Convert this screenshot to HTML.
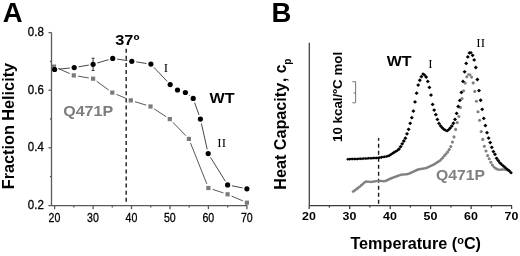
<!DOCTYPE html>
<html><head><meta charset="utf-8"><title>Figure</title>
<style>html,body{margin:0;padding:0;background:#fff}body{width:520px;height:256px;overflow:hidden;position:relative;font-family:"Liberation Sans",sans-serif}</style></head>
<body>
<svg width="520" height="256" viewBox="0 0 520 256" style="position:absolute;left:0;top:0;filter:blur(0.4px)">
<rect width="520" height="256" fill="#fff"/>
<g stroke="#5a5a5a" stroke-width="1.3" fill="none">
<path d="M51.5 32.5V205.7"/>
<path d="M48.4 205.7H247.5"/>
<path d="M48.5 32.6H51.5"/>
<path d="M49.9 61.4H51.5"/>
<path d="M48.5 90.2H51.5"/>
<path d="M49.9 119.0H51.5"/>
<path d="M48.5 147.8H51.5"/>
<path d="M49.9 176.6H51.5"/>
<path d="M54.6 205.7V209.2"/>
<path d="M73.8 205.7V207.5"/>
<path d="M93.1 205.7V209.2"/>
<path d="M112.3 205.7V207.5"/>
<path d="M131.5 205.7V209.2"/>
<path d="M150.8 205.7V207.5"/>
<path d="M170.0 205.7V209.2"/>
<path d="M189.2 205.7V207.5"/>
<path d="M208.4 205.7V209.2"/>
<path d="M227.7 205.7V207.5"/>
<path d="M246.9 205.7V209.2"/>
</g>
<path d="M126.2 48.7V205" stroke="#1a1a1a" stroke-width="1.4" stroke-dasharray="4 3.1" fill="none"/>
<path d="M58.0 68.4L69.8 73.6M78.1 76.1L88.8 78.0M96.7 81.3L108.7 90.0M116.4 94.3L126.7 98.7M135.0 101.7L146.3 105.2M154.2 108.9L166.1 116.7M172.9 122.3L185.8 135.7M190.5 143.0L206.8 183.9M212.6 189.4L223.4 192.9M231.6 196.1L242.9 200.9" stroke="#444" stroke-width="0.9" fill="none"/>
<path d="M59.0 69.1L69.8 68.0M78.5 66.8L88.8 65.1M97.3 63.0L108.5 59.7M117.1 59.1L127.4 60.6M136.2 61.9L146.5 63.5M153.9 67.3L167.2 81.4M188.9 95.2L189.7 95.7M194.6 102.6L199.0 114.9M201.4 123.4L207.2 149.3M210.5 157.3L225.3 181.2M231.9 185.8L242.6 187.9" stroke="#333" stroke-width="0.9" fill="none"/>
<path d="M93.1 58.2V70.5M91.6 58.2H94.6M91.6 70.5H94.6" stroke="#222" stroke-width="0.9" fill="none"/>
<rect x="51.9" y="64.5" width="4.2" height="4.2" fill="#7a7a7a"/>
<rect x="71.7" y="73.3" width="4.2" height="4.2" fill="#7a7a7a"/>
<rect x="91.0" y="76.6" width="4.2" height="4.2" fill="#7a7a7a"/>
<rect x="110.2" y="90.5" width="4.2" height="4.2" fill="#7a7a7a"/>
<rect x="128.7" y="98.3" width="4.2" height="4.2" fill="#7a7a7a"/>
<rect x="148.4" y="104.4" width="4.2" height="4.2" fill="#7a7a7a"/>
<rect x="167.7" y="117.0" width="4.2" height="4.2" fill="#7a7a7a"/>
<rect x="186.8" y="136.8" width="4.2" height="4.2" fill="#7a7a7a"/>
<rect x="206.3" y="185.9" width="4.2" height="4.2" fill="#7a7a7a"/>
<rect x="225.5" y="192.2" width="4.2" height="4.2" fill="#7a7a7a"/>
<rect x="244.8" y="200.6" width="4.2" height="4.2" fill="#7a7a7a"/>
<circle cx="54.6" cy="69.5" r="2.6" fill="#000"/>
<circle cx="74.2" cy="67.6" r="2.6" fill="#000"/>
<circle cx="93.1" cy="64.3" r="2.6" fill="#000"/>
<circle cx="112.7" cy="58.4" r="2.6" fill="#000"/>
<circle cx="131.8" cy="61.3" r="2.6" fill="#000"/>
<circle cx="150.9" cy="64.1" r="2.6" fill="#000"/>
<circle cx="170.2" cy="84.6" r="2.6" fill="#000"/>
<circle cx="177.5" cy="90.0" r="2.6" fill="#000"/>
<circle cx="185.4" cy="92.5" r="2.6" fill="#000"/>
<circle cx="193.2" cy="98.4" r="2.6" fill="#000"/>
<circle cx="200.4" cy="119.1" r="2.6" fill="#000"/>
<circle cx="208.2" cy="153.6" r="2.6" fill="#000"/>
<circle cx="227.6" cy="184.9" r="2.6" fill="#000"/>
<circle cx="246.9" cy="188.8" r="2.6" fill="#000"/>
<g stroke="#3c3c3c" stroke-width="1.25" fill="none">
<path d="M309.3 42.8V205.6"/>
<path d="M309.3 205.6H512"/>
<path d="M309.2 205.6V209.0"/>
<path d="M329.4 205.6V207.6"/>
<path d="M349.7 205.6V209.0"/>
<path d="M369.9 205.6V207.6"/>
<path d="M390.2 205.6V209.0"/>
<path d="M410.4 205.6V207.6"/>
<path d="M430.6 205.6V209.0"/>
<path d="M450.9 205.6V207.6"/>
<path d="M471.1 205.6V209.0"/>
<path d="M491.4 205.6V207.6"/>
<path d="M511.6 205.6V209.0"/>
</g>
<path d="M378.6 138V205.5" stroke="#1a1a1a" stroke-width="1.4" stroke-dasharray="3.9 3.1" stroke-dashoffset="1.25" fill="none"/>
<path d="M355.6 81.7V102.8M352.3 81.7H355.6M353.6 93H355.6M352.3 102.8H355.6" stroke="#666" stroke-width="0.9" fill="none"/>
<circle cx="353.2" cy="191.6" r="1.40" fill="#808080"/>
<circle cx="354.8" cy="190.4" r="1.40" fill="#808080"/>
<circle cx="356.4" cy="189.2" r="1.40" fill="#808080"/>
<circle cx="358.0" cy="188.0" r="1.40" fill="#808080"/>
<circle cx="359.6" cy="186.8" r="1.41" fill="#808080"/>
<circle cx="361.2" cy="185.4" r="1.42" fill="#808080"/>
<circle cx="362.8" cy="184.0" r="1.42" fill="#808080"/>
<circle cx="364.4" cy="182.6" r="1.40" fill="#808080"/>
<circle cx="366.0" cy="181.6" r="1.31" fill="#808080"/>
<circle cx="367.6" cy="181.7" r="1.26" fill="#808080"/>
<circle cx="369.2" cy="181.8" r="1.26" fill="#808080"/>
<circle cx="370.8" cy="181.9" r="1.26" fill="#808080"/>
<circle cx="372.4" cy="181.7" r="1.27" fill="#808080"/>
<circle cx="374.0" cy="181.5" r="1.28" fill="#808080"/>
<circle cx="375.6" cy="181.3" r="1.28" fill="#808080"/>
<circle cx="377.2" cy="181.1" r="1.27" fill="#808080"/>
<circle cx="378.8" cy="180.9" r="1.25" fill="#808080"/>
<circle cx="380.4" cy="181.0" r="1.26" fill="#808080"/>
<circle cx="382.0" cy="181.1" r="1.26" fill="#808080"/>
<circle cx="383.6" cy="181.2" r="1.25" fill="#808080"/>
<circle cx="385.2" cy="181.1" r="1.30" fill="#808080"/>
<circle cx="386.8" cy="180.4" r="1.34" fill="#808080"/>
<circle cx="388.4" cy="179.6" r="1.34" fill="#808080"/>
<circle cx="390.0" cy="178.9" r="1.34" fill="#808080"/>
<circle cx="391.6" cy="178.2" r="1.33" fill="#808080"/>
<circle cx="393.2" cy="177.6" r="1.32" fill="#808080"/>
<circle cx="394.8" cy="177.0" r="1.32" fill="#808080"/>
<circle cx="396.4" cy="176.4" r="1.32" fill="#808080"/>
<circle cx="398.0" cy="175.8" r="1.33" fill="#808080"/>
<circle cx="399.6" cy="175.2" r="1.32" fill="#808080"/>
<circle cx="401.2" cy="174.7" r="1.29" fill="#808080"/>
<circle cx="402.8" cy="174.6" r="1.27" fill="#808080"/>
<circle cx="404.4" cy="174.4" r="1.27" fill="#808080"/>
<circle cx="406.0" cy="174.2" r="1.27" fill="#808080"/>
<circle cx="407.6" cy="174.1" r="1.29" fill="#808080"/>
<circle cx="409.2" cy="173.6" r="1.32" fill="#808080"/>
<circle cx="410.8" cy="172.9" r="1.34" fill="#808080"/>
<circle cx="412.4" cy="172.1" r="1.34" fill="#808080"/>
<circle cx="414.0" cy="171.4" r="1.34" fill="#808080"/>
<circle cx="415.6" cy="170.7" r="1.34" fill="#808080"/>
<circle cx="417.2" cy="169.9" r="1.33" fill="#808080"/>
<circle cx="418.8" cy="169.4" r="1.30" fill="#808080"/>
<circle cx="420.4" cy="169.1" r="1.28" fill="#808080"/>
<circle cx="422.0" cy="168.8" r="1.28" fill="#808080"/>
<circle cx="423.6" cy="168.6" r="1.28" fill="#808080"/>
<circle cx="425.2" cy="168.3" r="1.30" fill="#808080"/>
<circle cx="426.8" cy="167.8" r="1.33" fill="#808080"/>
<circle cx="428.4" cy="167.1" r="1.34" fill="#808080"/>
<circle cx="430.0" cy="166.3" r="1.34" fill="#808080"/>
<circle cx="431.6" cy="165.6" r="1.34" fill="#808080"/>
<circle cx="433.2" cy="164.9" r="1.35" fill="#808080"/>
<circle cx="434.8" cy="163.9" r="1.37" fill="#808080"/>
<circle cx="436.4" cy="162.9" r="1.37" fill="#808080"/>
<circle cx="438.0" cy="161.9" r="1.37" fill="#808080"/>
<circle cx="439.6" cy="160.9" r="1.41" fill="#808080"/>
<circle cx="441.2" cy="159.4" r="1.46" fill="#808080"/>
<circle cx="442.8" cy="157.7" r="1.47" fill="#808080"/>
<circle cx="444.4" cy="155.8" r="1.48" fill="#808080"/>
<circle cx="446.0" cy="154.0" r="1.49" fill="#808080"/>
<circle cx="447.6" cy="151.9" r="1.52" fill="#808080"/>
<circle cx="449.2" cy="149.6" r="1.55" fill="#808080"/>
<circle cx="450.8" cy="146.5" r="1.55" fill="#808080"/>
<circle cx="452.4" cy="142.1" r="1.55" fill="#808080"/>
<circle cx="454.0" cy="136.9" r="1.55" fill="#808080"/>
<circle cx="455.6" cy="129.4" r="1.55" fill="#808080"/>
<circle cx="457.2" cy="122.6" r="1.55" fill="#808080"/>
<circle cx="458.8" cy="116.5" r="1.55" fill="#808080"/>
<circle cx="460.4" cy="107.4" r="1.55" fill="#808080"/>
<circle cx="462.0" cy="98.5" r="1.55" fill="#808080"/>
<circle cx="463.6" cy="90.7" r="1.55" fill="#808080"/>
<circle cx="465.2" cy="83.1" r="1.55" fill="#808080"/>
<circle cx="466.8" cy="76.7" r="1.55" fill="#808080"/>
<circle cx="468.4" cy="74.5" r="1.36" fill="#808080"/>
<circle cx="470.0" cy="74.8" r="1.41" fill="#808080"/>
<circle cx="471.6" cy="77.1" r="1.55" fill="#808080"/>
<circle cx="473.2" cy="82.9" r="1.55" fill="#808080"/>
<circle cx="474.8" cy="91.4" r="1.55" fill="#808080"/>
<circle cx="476.4" cy="101.3" r="1.55" fill="#808080"/>
<circle cx="478.0" cy="111.7" r="1.55" fill="#808080"/>
<circle cx="479.6" cy="120.2" r="1.55" fill="#808080"/>
<circle cx="481.2" cy="131.6" r="1.55" fill="#808080"/>
<circle cx="482.8" cy="139.4" r="1.55" fill="#808080"/>
<circle cx="484.4" cy="146.2" r="1.55" fill="#808080"/>
<circle cx="486.0" cy="151.0" r="1.55" fill="#808080"/>
<circle cx="487.6" cy="155.6" r="1.55" fill="#808080"/>
<circle cx="489.2" cy="158.8" r="1.55" fill="#808080"/>
<circle cx="490.8" cy="162.3" r="1.55" fill="#808080"/>
<circle cx="492.4" cy="165.0" r="1.55" fill="#808080"/>
<circle cx="494.0" cy="167.1" r="1.46" fill="#808080"/>
<circle cx="495.6" cy="168.4" r="1.38" fill="#808080"/>
<circle cx="497.2" cy="169.2" r="1.34" fill="#808080"/>
<circle cx="498.8" cy="169.8" r="1.28" fill="#808080"/>
<circle cx="500.4" cy="169.7" r="1.26" fill="#808080"/>
<circle cx="502.0" cy="169.6" r="1.26" fill="#808080"/>
<circle cx="503.6" cy="169.5" r="1.26" fill="#808080"/>
<circle cx="505.2" cy="169.7" r="1.28" fill="#808080"/>
<circle cx="506.8" cy="170.0" r="1.28" fill="#808080"/>
<circle cx="508.4" cy="170.2" r="1.28" fill="#808080"/>
<path d="M347.8 157.69L349.41 159.2L347.8 160.71L346.19 159.2Z" fill="#000"/>
<path d="M349.4 157.64L351.01 159.1L349.4 160.66L347.79 159.1Z" fill="#000"/>
<path d="M351.0 157.59L352.61 159.1L351.0 160.60L349.39 159.1Z" fill="#000"/>
<path d="M352.6 157.53L354.21 159.0L352.6 160.55L350.99 159.0Z" fill="#000"/>
<path d="M354.2 157.48L355.81 159.0L354.2 160.50L352.59 159.0Z" fill="#000"/>
<path d="M355.8 157.43L357.41 158.9L355.8 160.45L354.19 158.9Z" fill="#000"/>
<path d="M357.4 157.38L359.01 158.9L357.4 160.39L355.79 158.9Z" fill="#000"/>
<path d="M359.0 157.32L360.61 158.8L359.0 160.34L357.39 158.8Z" fill="#000"/>
<path d="M360.6 157.26L362.21 158.8L360.6 160.28L358.99 158.8Z" fill="#000"/>
<path d="M362.2 157.17L363.81 158.7L362.2 160.20L360.59 158.7Z" fill="#000"/>
<path d="M363.8 157.09L365.41 158.6L363.8 160.11L362.19 158.6Z" fill="#000"/>
<path d="M365.4 157.00L367.01 158.5L365.4 160.03L363.79 158.5Z" fill="#000"/>
<path d="M367.0 156.92L368.61 158.4L367.0 159.95L365.39 158.4Z" fill="#000"/>
<path d="M368.6 156.83L370.21 158.3L368.6 159.86L366.99 158.3Z" fill="#000"/>
<path d="M370.2 156.75L371.81 158.3L370.2 159.78L368.59 158.3Z" fill="#000"/>
<path d="M371.8 156.66L373.41 158.2L371.8 159.69L370.19 158.2Z" fill="#000"/>
<path d="M373.4 156.58L375.01 158.1L373.4 159.61L371.79 158.1Z" fill="#000"/>
<path d="M375.0 156.50L376.61 158.0L375.0 159.52L373.39 158.0Z" fill="#000"/>
<path d="M376.6 156.41L378.21 157.9L376.6 159.44L374.99 157.9Z" fill="#000"/>
<path d="M378.2 156.32L379.82 157.8L378.2 159.37L376.58 157.8Z" fill="#000"/>
<path d="M379.8 156.11L381.44 157.6L379.8 159.19L378.16 157.6Z" fill="#000"/>
<path d="M381.4 155.79L383.05 157.3L381.4 158.89L379.75 157.3Z" fill="#000"/>
<path d="M383.0 155.49L384.65 157.0L383.0 158.59L381.35 157.0Z" fill="#000"/>
<path d="M384.6 155.19L386.25 156.7L384.6 158.29L382.95 156.7Z" fill="#000"/>
<path d="M386.2 154.88L387.85 156.4L386.2 157.99L384.55 156.4Z" fill="#000"/>
<path d="M387.8 154.53L389.48 156.1L387.8 157.69L386.12 156.1Z" fill="#000"/>
<path d="M389.4 153.85L391.14 155.5L389.4 157.14L387.66 155.5Z" fill="#000"/>
<path d="M391.0 152.73L392.78 154.4L391.0 156.09L389.22 154.4Z" fill="#000"/>
<path d="M392.6 151.64L394.38 153.3L392.6 155.00L390.82 153.3Z" fill="#000"/>
<path d="M394.2 150.58L395.96 152.2L394.2 153.90L392.44 152.2Z" fill="#000"/>
<path d="M395.8 149.72L397.56 151.4L395.8 153.03L394.04 151.4Z" fill="#000"/>
<path d="M397.4 148.68L399.19 150.4L397.4 152.06L395.61 150.4Z" fill="#000"/>
<path d="M399.0 147.31L400.91 149.1L399.0 150.92L397.09 149.1Z" fill="#000"/>
<path d="M400.6 144.77L402.60 146.7L400.6 148.57L398.60 146.7Z" fill="#000"/>
<path d="M402.2 141.93L404.20 143.8L402.2 145.73L400.20 143.8Z" fill="#000"/>
<path d="M403.8 139.09L405.80 141.0L403.8 142.89L401.80 141.0Z" fill="#000"/>
<path d="M405.4 136.25L407.40 138.2L405.4 140.05L403.40 138.2Z" fill="#000"/>
<path d="M407.0 131.93L409.00 133.8L407.0 135.73L405.00 133.8Z" fill="#000"/>
<path d="M408.6 127.40L410.60 129.3L408.6 131.20L406.60 129.3Z" fill="#000"/>
<path d="M410.2 121.40L412.20 123.3L410.2 125.20L408.20 123.3Z" fill="#000"/>
<path d="M411.8 115.79L413.80 117.7L411.8 119.59L409.80 117.7Z" fill="#000"/>
<path d="M413.4 109.22L415.40 111.1L413.4 113.02L411.40 111.1Z" fill="#000"/>
<path d="M415.0 100.01L417.00 101.9L415.0 103.81L413.00 101.9Z" fill="#000"/>
<path d="M416.6 91.25L418.60 93.2L416.6 95.05L414.60 93.2Z" fill="#000"/>
<path d="M418.2 83.24L420.20 85.1L418.2 87.04L416.20 85.1Z" fill="#000"/>
<path d="M419.8 78.35L421.80 80.3L419.8 82.15L417.80 80.3Z" fill="#000"/>
<path d="M421.4 74.79L423.40 76.7L421.4 78.59L419.40 76.7Z" fill="#000"/>
<path d="M423.0 72.33L424.75 74.0L423.0 75.63L421.25 74.0Z" fill="#000"/>
<path d="M424.6 73.16L426.46 74.9L424.6 76.67L422.74 74.9Z" fill="#000"/>
<path d="M426.2 75.17L428.20 77.1L426.2 78.97L424.20 77.1Z" fill="#000"/>
<path d="M427.8 79.55L429.80 81.5L427.8 83.35L425.80 81.5Z" fill="#000"/>
<path d="M429.4 85.52L431.40 87.4L429.4 89.32L427.40 87.4Z" fill="#000"/>
<path d="M431.0 93.20L433.00 95.1L431.0 97.00L429.00 95.1Z" fill="#000"/>
<path d="M432.6 102.48L434.60 104.4L432.6 106.28L430.60 104.4Z" fill="#000"/>
<path d="M434.2 108.19L436.20 110.1L434.2 111.99L432.20 110.1Z" fill="#000"/>
<path d="M435.8 112.81L437.80 114.7L435.8 116.61L433.80 114.7Z" fill="#000"/>
<path d="M437.4 117.51L439.40 119.4L437.4 121.31L435.40 119.4Z" fill="#000"/>
<path d="M439.0 121.46L441.00 123.4L439.0 125.26L437.00 123.4Z" fill="#000"/>
<path d="M440.6 124.12L442.56 126.0L440.6 127.84L438.64 126.0Z" fill="#000"/>
<path d="M442.2 125.92L444.08 127.7L442.2 129.48L440.32 127.7Z" fill="#000"/>
<path d="M443.8 127.60L445.60 129.3L443.8 131.00L442.00 129.3Z" fill="#000"/>
<path d="M445.4 128.52L447.13 130.2L445.4 131.79L443.67 130.2Z" fill="#000"/>
<path d="M447.0 129.36L448.64 130.9L447.0 132.44L445.36 130.9Z" fill="#000"/>
<path d="M448.6 127.95L450.43 129.7L448.6 131.41L446.77 129.7Z" fill="#000"/>
<path d="M450.2 126.34L452.10 128.1L450.2 129.94L448.30 128.1Z" fill="#000"/>
<path d="M451.8 124.22L453.80 126.1L451.8 128.02L449.80 126.1Z" fill="#000"/>
<path d="M453.4 121.37L455.40 123.3L453.4 125.17L451.40 123.3Z" fill="#000"/>
<path d="M455.0 117.57L457.00 119.5L455.0 121.37L453.00 119.5Z" fill="#000"/>
<path d="M456.6 111.50L458.60 113.4L456.6 115.30L454.60 113.4Z" fill="#000"/>
<path d="M458.2 104.61L460.20 106.5L458.2 108.41L456.20 106.5Z" fill="#000"/>
<path d="M459.8 98.52L461.80 100.4L459.8 102.32L457.80 100.4Z" fill="#000"/>
<path d="M461.4 90.56L463.40 92.5L461.4 94.36L459.40 92.5Z" fill="#000"/>
<path d="M463.0 79.56L465.00 81.5L463.0 83.36L461.00 81.5Z" fill="#000"/>
<path d="M464.6 69.88L466.60 71.8L464.6 73.68L462.60 71.8Z" fill="#000"/>
<path d="M466.2 61.45L468.20 63.4L466.2 65.25L464.20 63.4Z" fill="#000"/>
<path d="M467.8 55.02L469.80 56.9L467.8 58.82L465.80 56.9Z" fill="#000"/>
<path d="M469.4 51.12L471.35 53.0L469.4 54.82L467.45 53.0Z" fill="#000"/>
<path d="M471.0 50.98L472.79 52.7L471.0 54.37L469.21 52.7Z" fill="#000"/>
<path d="M472.6 53.39L474.60 55.3L472.6 57.19L470.60 55.3Z" fill="#000"/>
<path d="M474.2 58.02L476.20 59.9L474.2 61.82L472.20 59.9Z" fill="#000"/>
<path d="M475.8 65.60L477.80 67.5L475.8 69.40L473.80 67.5Z" fill="#000"/>
<path d="M477.4 77.62L479.40 79.5L477.4 81.42L475.40 79.5Z" fill="#000"/>
<path d="M479.0 88.67L481.00 90.6L479.0 92.47L477.00 90.6Z" fill="#000"/>
<path d="M480.6 98.37L482.60 100.3L480.6 102.17L478.60 100.3Z" fill="#000"/>
<path d="M482.2 107.42L484.20 109.3L482.2 111.22L480.20 109.3Z" fill="#000"/>
<path d="M483.8 116.50L485.80 118.4L483.8 120.30L481.80 118.4Z" fill="#000"/>
<path d="M485.4 123.73L487.40 125.6L485.4 127.53L483.40 125.6Z" fill="#000"/>
<path d="M487.0 130.79L489.00 132.7L487.0 134.59L485.00 132.7Z" fill="#000"/>
<path d="M488.6 136.18L490.60 138.1L488.6 139.98L486.60 138.1Z" fill="#000"/>
<path d="M490.2 140.72L492.20 142.6L490.2 144.52L488.20 142.6Z" fill="#000"/>
<path d="M491.8 145.45L493.80 147.3L491.8 149.25L489.80 147.3Z" fill="#000"/>
<path d="M493.4 149.63L495.40 151.5L493.4 153.43L491.40 151.5Z" fill="#000"/>
<path d="M495.0 152.43L497.00 154.3L495.0 156.23L493.00 154.3Z" fill="#000"/>
<path d="M496.6 156.39L498.60 158.3L496.6 160.19L494.60 158.3Z" fill="#000"/>
<path d="M498.2 158.64L500.17 160.5L498.2 162.39L496.23 160.5Z" fill="#000"/>
<path d="M499.8 160.93L501.72 162.7L499.8 164.56L497.88 162.7Z" fill="#000"/>
<path d="M501.4 162.57L503.24 164.3L501.4 166.06L499.56 164.3Z" fill="#000"/>
<path d="M503.0 163.95L504.83 165.7L503.0 167.40L501.17 165.7Z" fill="#000"/>
<path d="M504.6 165.31L506.42 167.0L504.6 168.75L502.78 167.0Z" fill="#000"/>
<path d="M506.2 166.64L508.02 168.4L506.2 170.08L504.38 168.4Z" fill="#000"/>
<path d="M507.8 167.97L509.62 169.7L507.8 171.41L505.98 169.7Z" fill="#000"/>
<path d="M509.4 169.27L511.25 171.0L509.4 172.77L507.55 171.0Z" fill="#000"/>
<path d="M511.0 170.92L512.88 172.7L511.0 174.48L509.12 172.7Z" fill="#000"/>
<text x="2.75" y="22.25" font-family="Liberation Sans, sans-serif" font-weight="bold" font-size="27.5" fill="#000" text-anchor="start" >A</text>
<text x="271.5" y="21.9" font-family="Liberation Sans, sans-serif" font-weight="bold" font-size="27.5" fill="#000" text-anchor="start" >B</text>
<text x="27.8" y="36.199999999999996" font-family="Liberation Sans, sans-serif" font-size="12.6" fill="#000" text-anchor="start" textLength="16.0" lengthAdjust="spacingAndGlyphs" stroke="#000" stroke-width="0.3">0.8</text>
<text x="27.8" y="93.80000000000001" font-family="Liberation Sans, sans-serif" font-size="12.6" fill="#000" text-anchor="start" textLength="16.0" lengthAdjust="spacingAndGlyphs" stroke="#000" stroke-width="0.3">0.6</text>
<text x="27.8" y="151.4" font-family="Liberation Sans, sans-serif" font-size="12.6" fill="#000" text-anchor="start" textLength="16.0" lengthAdjust="spacingAndGlyphs" stroke="#000" stroke-width="0.3">0.4</text>
<text x="27.8" y="209.0" font-family="Liberation Sans, sans-serif" font-size="12.6" fill="#000" text-anchor="start" textLength="16.0" lengthAdjust="spacingAndGlyphs" stroke="#000" stroke-width="0.3">0.2</text>
<text x="48.6" y="222.1" font-family="Liberation Sans, sans-serif" font-size="13" fill="#000" text-anchor="start" textLength="11.8" lengthAdjust="spacingAndGlyphs" stroke="#000" stroke-width="0.3">20</text>
<text x="87.06" y="222.1" font-family="Liberation Sans, sans-serif" font-size="13" fill="#000" text-anchor="start" textLength="11.8" lengthAdjust="spacingAndGlyphs" stroke="#000" stroke-width="0.3">30</text>
<text x="125.52000000000001" y="222.1" font-family="Liberation Sans, sans-serif" font-size="13" fill="#000" text-anchor="start" textLength="11.8" lengthAdjust="spacingAndGlyphs" stroke="#000" stroke-width="0.3">40</text>
<text x="163.98" y="222.1" font-family="Liberation Sans, sans-serif" font-size="13" fill="#000" text-anchor="start" textLength="11.8" lengthAdjust="spacingAndGlyphs" stroke="#000" stroke-width="0.3">50</text>
<text x="202.44" y="222.1" font-family="Liberation Sans, sans-serif" font-size="13" fill="#000" text-anchor="start" textLength="11.8" lengthAdjust="spacingAndGlyphs" stroke="#000" stroke-width="0.3">60</text>
<text x="240.9" y="222.1" font-family="Liberation Sans, sans-serif" font-size="13" fill="#000" text-anchor="start" textLength="11.8" lengthAdjust="spacingAndGlyphs" stroke="#000" stroke-width="0.3">70</text>
<text x="209.5" y="103.4" font-family="Liberation Sans, sans-serif" font-weight="bold" font-size="15" fill="#000" text-anchor="start" textLength="25" lengthAdjust="spacingAndGlyphs" >WT</text>
<text x="63.2" y="115.9" font-family="Liberation Sans, sans-serif" font-weight="bold" font-size="15" fill="#7d7d7d" text-anchor="start" textLength="50" lengthAdjust="spacingAndGlyphs" >Q471P</text>
<text x="115.2" y="45" font-family="Liberation Sans, sans-serif" font-weight="bold" font-size="15" fill="#000" text-anchor="start" textLength="24.2" lengthAdjust="spacingAndGlyphs" >37º</text>
<text x="163.8" y="72.4" font-family="Liberation Serif, serif" font-size="13" fill="#000" text-anchor="start" >I</text>
<text x="217.3" y="147.4" font-family="Liberation Serif, serif" font-size="13" fill="#000" text-anchor="start" >II</text>
<text transform="translate(14.4,189.2) rotate(-90)" font-family="Liberation Sans, sans-serif" font-weight="bold" font-size="15.7" textLength="126.3" lengthAdjust="spacingAndGlyphs">Fraction Helicity</text>
<text x="302.09999999999997" y="219.7" font-family="Liberation Sans, sans-serif" font-weight="bold" font-size="11.4" fill="#000" text-anchor="start" textLength="13.8" lengthAdjust="spacingAndGlyphs" >20</text>
<text x="342.58" y="219.7" font-family="Liberation Sans, sans-serif" font-weight="bold" font-size="11.4" fill="#000" text-anchor="start" textLength="13.8" lengthAdjust="spacingAndGlyphs" >30</text>
<text x="383.05999999999995" y="219.7" font-family="Liberation Sans, sans-serif" font-weight="bold" font-size="11.4" fill="#000" text-anchor="start" textLength="13.8" lengthAdjust="spacingAndGlyphs" >40</text>
<text x="423.53999999999996" y="219.7" font-family="Liberation Sans, sans-serif" font-weight="bold" font-size="11.4" fill="#000" text-anchor="start" textLength="13.8" lengthAdjust="spacingAndGlyphs" >50</text>
<text x="464.02" y="219.7" font-family="Liberation Sans, sans-serif" font-weight="bold" font-size="11.4" fill="#000" text-anchor="start" textLength="13.8" lengthAdjust="spacingAndGlyphs" >60</text>
<text x="504.5" y="219.7" font-family="Liberation Sans, sans-serif" font-weight="bold" font-size="11.4" fill="#000" text-anchor="start" textLength="13.8" lengthAdjust="spacingAndGlyphs" >70</text>
<text x="350.4" y="249.2" font-family="Liberation Sans, sans-serif" font-weight="bold" font-size="15.6" textLength="130.6" lengthAdjust="spacingAndGlyphs">Temperature (<tspan font-size="10.5" dy="-5.4">o</tspan><tspan dy="5.4">C)</tspan></text>
<text x="386.8" y="66.4" font-family="Liberation Sans, sans-serif" font-weight="bold" font-size="14.5" fill="#000" text-anchor="start" textLength="24.8" lengthAdjust="spacingAndGlyphs" >WT</text>
<text x="436" y="180" font-family="Liberation Sans, sans-serif" font-weight="bold" font-size="14.5" fill="#808080" text-anchor="start" textLength="49" lengthAdjust="spacingAndGlyphs" >Q471P</text>
<text x="428.3" y="68.3" font-family="Liberation Serif, serif" font-size="13" fill="#000" text-anchor="start" >I</text>
<text x="476.3" y="46.9" font-family="Liberation Serif, serif" font-size="13" fill="#000" text-anchor="start" >II</text>
<text transform="translate(286,189.8) rotate(-90)" font-family="Liberation Sans, sans-serif" font-weight="bold" font-size="16" textLength="107" lengthAdjust="spacingAndGlyphs">Heat Capacity</text>
<text transform="translate(286,82.0) rotate(-90)" font-family="Liberation Sans, sans-serif" font-weight="bold" font-size="16" textLength="23.6" lengthAdjust="spacingAndGlyphs">, c<tspan font-size="10.5" dy="4.6">p</tspan></text>
<text transform="translate(341.8,141.9) rotate(-90)" font-family="Liberation Sans, sans-serif" font-weight="bold" font-size="13" textLength="90" lengthAdjust="spacingAndGlyphs">10 kcal/ºC mol</text>
</svg>
</body></html>
